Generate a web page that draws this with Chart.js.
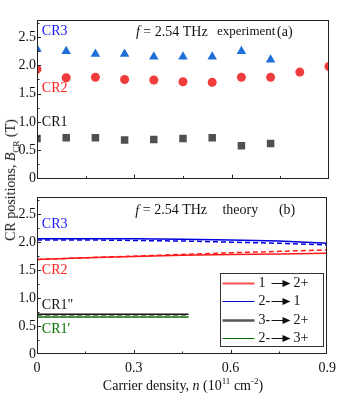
<!DOCTYPE html>
<html lang="en">
<head>
<meta charset="UTF-8">
<title>CR positions</title>
<script src="https://cdn.jsdelivr.net/npm/chart.js"></script>
<style>
  body { margin: 0; background: #fff; }
  #wrap { position: relative; width: 342px; height: 404px; font-family: 'Liberation Serif', serif; color: #111; }
  #top { position: absolute; left: 0; top: 0; }
  #bot { position: absolute; left: 0; top: 188px; }
  .ttl { position: absolute; white-space: nowrap; font-size: 14px; transform: translate(-50%, -50%); }
  #ytitle { left: 11px; top: 180px; transform: translate(-50%, -50%) rotate(-90deg); }
  #xtitle { left: 183px; top: 386px; }
  sub, sup { font-size: 9px; line-height: 0; }
</style>
</head>
<body>
<div id="wrap">
  <canvas id="top" width="342" height="188"></canvas>
  <canvas id="bot" width="342" height="216"></canvas>
  <div class="ttl" id="ytitle">CR positions, <i>B</i><sub>CR</sub> (T)</div>
  <div class="ttl" id="xtitle">Carrier density, <i>n</i> (10<sup>11</sup> cm<sup>-2</sup>)</div>
</div>
<script>
// experiment (a)
var nExp   = [0, 0.09, 0.18, 0.27, 0.36, 0.45, 0.54, 0.63, 0.72, 0.81, 0.9];
var cr3Exp = [2.29, 2.25, 2.20, 2.20, 2.15, 2.15, 2.15, 2.25, 2.10, null, null];
var cr2Exp = [1.93, 1.78, 1.79, 1.75, 1.74, 1.71, 1.70, 1.79, 1.79, 1.88, 1.98];
var cr1Exp = [0.71, 0.72, 0.72, 0.68, 0.69, 0.71, 0.72, 0.58, 0.62, null, null];

// theory (b)
var nTh        = [0, 0.15, 0.3, 0.45, 0.6, 0.75, 0.9];
var cr2Th      = [1.69, 1.72, 1.745, 1.765, 1.78, 1.79, 1.80];
var cr2ThDash  = [1.69, 1.72, 1.75, 1.78, 1.81, 1.835, 1.86];
var cr3Th      = [2.06, 2.06, 2.06, 2.05, 2.04, 2.02, 1.98];
var cr3ThDash  = [2.04, 2.04, 2.03, 2.02, 2.00, 1.98, 1.95];
var nCr1       = [0, 0.47];
var cr1b       = [0.71, 0.71];
var cr1bDash   = [0.685, 0.685];
var cr1a       = [0.66, 0.66];

var xTicks = [0, 0.3, 0.6, 0.9];
var yTicks = [0, 0.5, 1, 1.5, 2, 2.5];
var legendRows = [['1', '2+'], ['2-', '1'], ['3-', '2+'], ['2-', '3+']];

function xy(xs, ys) {
  return xs.map(function (x, i) { return { x: x, y: ys[i] }; });
}

Chart.defaults.font.family = 'Liberation Serif';
Chart.defaults.font.size = 14;
Chart.defaults.color = '#111';

function fmt(v) { return v === 0 ? '0' : v.toFixed(1); }

function makeScales(showX) {
  return {
    x: {
      type: 'linear', min: 0, max: 0.9,
      afterBuildTicks: function (s) { s.ticks = xTicks.map(function (v) { return { value: v }; }); },
      afterFit: function (s) { s.height = showX ? 50 : 5; },
      grid: { display: false, drawTicks: false },
      border: { display: false },
      ticks: { display: showX, padding: 6, callback: fmt }
    },
    y: {
      min: 0, max: 2.8,
      afterBuildTicks: function (s) { s.ticks = yTicks.map(function (v) { return { value: v }; }); },
      afterFit: function (s) { s.width = 37; },
      grid: { display: false, drawTicks: false },
      border: { display: false },
      ticks: { padding: 1, callback: fmt }
    }
  };
}

// frame, inward ticks, text labels and legend
var panelDeco = {
  id: 'panelDeco',
  afterDatasetsDraw: function (chart, args, opts) {
    var ctx = chart.ctx, a = chart.chartArea, x = chart.scales.x, y = chart.scales.y;
    ctx.save();
    ctx.strokeStyle = '#222';
    ctx.lineWidth = 1;
    ctx.strokeRect(Math.round(a.left) + 0.5, Math.round(a.top) + 0.5, Math.round(a.width) - 1, Math.round(a.height) - 1);
    ctx.beginPath();
    for (var i = 1; i < 6; i++) {
      var px = Math.round(x.getPixelForValue(i * 0.15)) + 0.5;
      var len = i % 2 === 0 ? 4 : 2.5;
      ctx.moveTo(px, a.bottom); ctx.lineTo(px, a.bottom - len);
    }
    for (var j = 1; j < 12; j++) {
      var py = Math.round(y.getPixelForValue(j * 0.25)) + 0.5;
      var ln = j % 2 === 0 ? 4 : 2.5;
      ctx.moveTo(a.left, py); ctx.lineTo(a.left + ln, py);
    }
    ctx.stroke();

    ctx.textBaseline = 'middle';
    (opts.labels || []).forEach(function (l) {
      var tx = x.getPixelForValue(l.x), ty = y.getPixelForValue(l.y);
      var size = l.size || 14;
      ctx.fillStyle = l.color || '#111';
      if (l.right) {
        var tw = 0;
        l.parts.forEach(function (p) {
          ctx.font = (p[1] ? 'italic ' : '') + size + 'px "Liberation Serif"';
          tw += ctx.measureText(p[0]).width;
        });
        tx -= tw;
      }
      l.parts.forEach(function (p) {
        ctx.font = (p[1] ? 'italic ' : '') + size + 'px "Liberation Serif"';
        ctx.fillText(p[0], tx, ty);
        tx += ctx.measureText(p[0]).width;
      });
    });

    if (opts.legend) {
      var w = 103, h = 73;
      var lx = Math.round(a.right - 4 - w) + 0.5, ly = Math.round(a.bottom - 8 - h) + 0.5;
      ctx.fillStyle = '#fff';
      ctx.fillRect(lx, ly, w, h);
      ctx.strokeStyle = '#333';
      ctx.lineWidth = 1;
      ctx.strokeRect(lx, ly, w, h);
      var offs = [10, 28, 47, 65];
      opts.legend.forEach(function (r, k) {
        var ry = ly + offs[k];
        ctx.strokeStyle = r.color;
        ctx.lineWidth = r.width;
        ctx.beginPath(); ctx.moveTo(lx + 2, ry); ctx.lineTo(lx + 34, ry); ctx.stroke();
        ctx.fillStyle = '#111';
        ctx.font = '14px "Liberation Serif"';
        ctx.fillText(legendRows[k][0], lx + 38, ry);
        ctx.fillText(legendRows[k][1], lx + 73, ry);
        // arrow
        ctx.strokeStyle = '#111'; ctx.lineWidth = 1;
        ctx.beginPath(); ctx.moveTo(lx + 51, ry); ctx.lineTo(lx + 64, ry); ctx.stroke();
        ctx.beginPath(); ctx.moveTo(lx + 62, ry - 3.5); ctx.lineTo(lx + 70, ry); ctx.lineTo(lx + 62, ry + 3.5); ctx.closePath(); ctx.fill();
      });
    }
    ctx.restore();
  }
};

function fLabel(yv) { return { x: 0.305, y: yv, parts: [['f', true], [' = 2.54 THz']] }; }

new Chart(document.getElementById('top'), {
  type: 'scatter',
  data: {
    datasets: [
      { label: 'CR3', data: xy(nExp, cr3Exp), pointStyle: 'triangle', pointRadius: 5.5, backgroundColor: '#1f6fd8', borderColor: '#1f6fd8', borderWidth: 0 },
      { label: 'CR2', data: xy(nExp, cr2Exp), pointStyle: 'circle', pointRadius: 4.5, backgroundColor: '#f03c3c', borderColor: '#f03c3c', borderWidth: 0 },
      { label: 'CR1', data: xy(nExp, cr1Exp), pointStyle: 'rect', pointRadius: 5.3, backgroundColor: '#505050', borderColor: '#505050', borderWidth: 0 }
    ]
  },
  options: {
    responsive: false, animation: false,
    layout: { padding: { top: 20, right: 13, left: 0, bottom: 0 } },
    scales: makeScales(false),
    plugins: {
      legend: { display: false }, tooltip: { enabled: false },
      panelDeco: {
        labels: [
          { x: 0.015, y: 2.6, color: '#1a1aff', parts: [['CR3']] },
          { x: 0.015, y: 1.6, color: '#ff2020', parts: [['CR2']] },
          { x: 0.015, y: 1.0, color: '#111', parts: [['CR1']] },
          fLabel(2.59),
          { x: 0.735, y: 2.59, right: true, size: 13, parts: [['experiment']] },
          { x: 0.74, y: 2.59, parts: [['(a)']] }
        ]
      }
    }
  },
  plugins: [panelDeco]
});

function line(label, xs, ys, color, width, dash) {
  return { label: label, data: xy(xs, ys), showLine: true, pointRadius: 0, borderColor: color, borderWidth: width, borderDash: dash || [], fill: false };
}

new Chart(document.getElementById('bot'), {
  type: 'scatter',
  data: {
    datasets: [
      line('1 → 2+', nTh, cr2Th, '#ff1a1a', 1.5),
      line('1 → 2+ (dashed)', nTh, cr2ThDash, '#ff1a1a', 1.5, [5, 3]),
      line('2- → 1', nTh, cr3Th, '#0000e0', 1.5),
      line('2- → 1 (dashed)', nTh, cr3ThDash, '#0000e0', 1.5, [5, 3]),
      line('3- → 2+', nCr1, cr1b, '#111', 1.5),
      line('3- → 2+ (dashed)', nCr1, cr1bDash, '#777', 1, [5, 3]),
      line('2- → 3+', nCr1, cr1a, '#007000', 1.5)
    ]
  },
  options: {
    responsive: false, animation: false,
    layout: { padding: { top: 4, right: 13, left: 0, bottom: 0 } },
    scales: makeScales(true),
    plugins: {
      legend: { display: false }, tooltip: { enabled: false },
      panelDeco: {
        labels: [
          { x: 0.015, y: 2.32, color: '#1a1aff', parts: [['CR3']] },
          { x: 0.015, y: 1.49, color: '#ff2020', parts: [['CR2']] },
          { x: 0.015, y: 0.87, color: '#111', parts: [['CR1"']] },
          { x: 0.015, y: 0.44, color: '#007000', parts: [["CR1'"]] },
          fLabel(2.56),
          { x: 0.575, y: 2.56, parts: [['theory']] },
          { x: 0.75, y: 2.56, parts: [['(b)']] }
        ],
        legend: [
          { color: '#ff5050', width: 2 },
          { color: '#0000cc', width: 1 },
          { color: '#555', width: 2.5 },
          { color: '#007000', width: 1 }
        ]
      }
    }
  },
  plugins: [panelDeco]
});
</script>
</body>
</html>
